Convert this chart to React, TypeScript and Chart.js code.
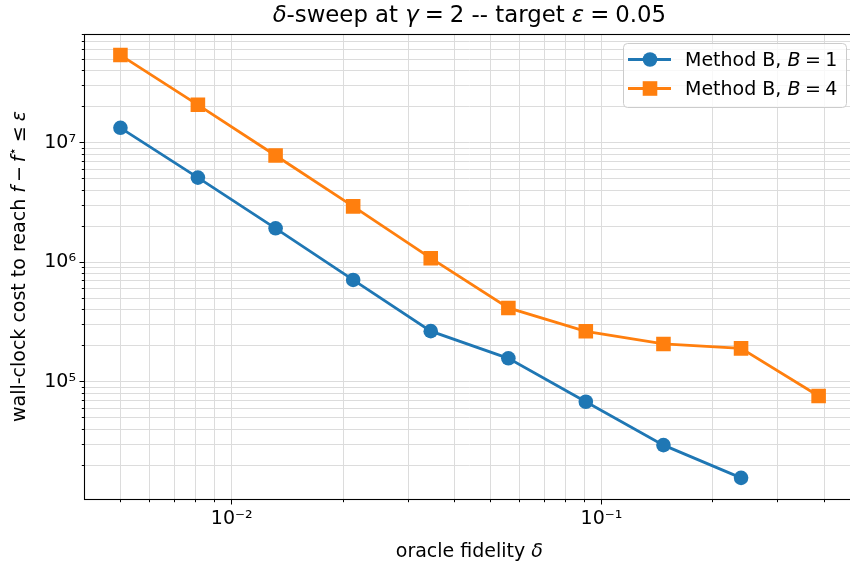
import React, { useEffect, useRef } from 'react';
import { Chart, registerables } from 'chart.js';

Chart.register(...registerables);

// ---- data ----
const delta = [0.005, 0.0081, 0.01314, 0.0213, 0.03453, 0.056, 0.0907, 0.1471, 0.2385, 0.3866];
const costB1 = [1.33e7, 5.1e6, 1.92e6, 7.1e5, 2.65e5, 1.57e5, 6.8e4, 2.95e4, 1.57e4];
const costB4 = [5.4e7, 2.07e7, 7.8e6, 2.93e6, 1.08e6, 4.14e5, 2.64e5, 2.07e5, 1.9e5, 7.6e4];
const seriesNames = ['Method B, B = 1', 'Method B, B = 4'];
const seriesColors = ['#1f77b4', '#ff7f0e'];

const xMajorTicks = [0.01, 0.1];
const xMajorTickLabels = ['10⁻²', '10⁻¹'];
const yMajorTicks = [1e5, 1e6, 1e7];
const yMajorTickLabels = ['10⁵', '10⁶', '10⁷'];

const xRange = [0.00401, 0.481];
const yRange = [1.045e4, 8.1e7];

// ---- helpers ----
const FONT = "'DejaVu Sans'";
const LABEL_SIZE = 19;
const TITLE_SIZE = 22.8;
type Seg = { t: string; it?: boolean; sup?: boolean; gap?: number };

function logTicks(min: number, max: number): number[] {
  const out: number[] = [];
  for (let e = Math.floor(Math.log10(min)); e <= Math.ceil(Math.log10(max)); e++) {
    for (let m = 1; m <= 9; m++) {
      const v = m * Math.pow(10, e);
      if (v >= min && v <= max) out.push(v);
    }
  }
  return out;
}
const isMajor = (v: number) => Math.abs(Math.log10(v) - Math.round(Math.log10(v))) < 1e-9;

function labelFor(v: number, majors: number[], labels: string[]) {
  for (let i = 0; i < majors.length; i++) {
    if (Math.abs(v / majors[i] - 1) < 1e-9) return labels[i];
  }
  return '';
}

function segFont(s: Seg, size: number) {
  const sz = s.sup ? size * 0.7 : size;
  return `${s.it ? 'italic ' : ''}${sz}px ${FONT}`;
}
function segWidth(ctx: CanvasRenderingContext2D, s: Seg, size: number) {
  ctx.font = segFont(s, size);
  return ctx.measureText(s.t).width + (s.gap || 0) * 2;
}
function drawRich(ctx: CanvasRenderingContext2D, segs: Seg[], x: number, y: number, size: number, align: 'left' | 'center') {
  let w = 0;
  for (const s of segs) w += segWidth(ctx, s, size);
  let cx = align === 'center' ? x - w / 2 : x;
  ctx.textAlign = 'left';
  ctx.textBaseline = 'alphabetic';
  for (const s of segs) {
    ctx.font = segFont(s, size);
    ctx.fillText(s.t, cx + (s.gap || 0), s.sup ? y - size * 0.42 : y);
    cx += segWidth(ctx, s, size);
  }
}

const titleSegs: Seg[] = [
  { t: 'δ', it: true }, { t: '-sweep at ' }, { t: 'γ', it: true }, { t: '=', gap: 6 }, { t: '2 -- target ' },
  { t: 'ε', it: true }, { t: '=', gap: 6 }, { t: '0.05' },
];
const xLabelSegs: Seg[] = [{ t: 'oracle fidelity ' }, { t: 'δ', it: true }];
const yLabelSegs: Seg[] = [
  { t: 'wall-clock cost to reach ' }, { t: 'f', it: true }, { t: '−', gap: 4 }, { t: 'f', it: true },
  { t: '⋆', sup: true }, { t: '≤', gap: 5 }, { t: 'ε', it: true },
];
function legendSegs(name: string): Seg[] {
  const idx = name.lastIndexOf('B');
  const rest = name.slice(idx + 1).replace('=', '').trim();
  return [{ t: name.slice(0, idx) }, { t: 'B', it: true }, { t: '=', gap: 4.5 }, { t: rest }];
}

const decorPlugin = {
  id: 'decor',
  afterDraw(chart: any) {
    const ctx: CanvasRenderingContext2D = chart.ctx;
    const a = chart.chartArea;
    ctx.save();
    ctx.strokeStyle = '#000';
    ctx.lineWidth = 1;
    const xs = chart.scales.x;
    const ys = chart.scales.y;
    ctx.beginPath();
    for (const t of xs.ticks) {
      const px = Math.round(xs.getPixelForValue(t.value) - 0.5) + 0.5;
      if (px < a.left - 0.5 || px > a.right + 0.5) continue;
      const len = isMajor(t.value) ? 5.5 : 3.2;
      ctx.moveTo(px, a.bottom);
      ctx.lineTo(px, a.bottom + len);
    }
    for (const t of ys.ticks) {
      const py = Math.round(ys.getPixelForValue(t.value) - 0.5) + 0.5;
      if (py < a.top - 0.5 || py > a.bottom + 0.5) continue;
      const len = isMajor(t.value) ? 5.5 : 3.2;
      ctx.moveTo(a.left, py);
      ctx.lineTo(a.left - len, py);
    }
    ctx.stroke();
    ctx.lineWidth = 1.1;
    ctx.strokeRect(Math.round(a.left) - 0.5, Math.round(a.top) + 0.5, a.right - a.left, a.bottom - a.top);

    ctx.fillStyle = '#000';
    const cx = (a.left + a.right) / 2;
    drawRich(ctx, titleSegs, cx, 22, TITLE_SIZE, 'center');
    drawRich(ctx, xLabelSegs, cx, 557, LABEL_SIZE, 'center');
    ctx.save();
    ctx.translate(25, (a.top + a.bottom) / 2);
    ctx.rotate(-Math.PI / 2);
    drawRich(ctx, yLabelSegs, 0, 0, LABEL_SIZE, 'center');
    ctx.restore();

    // legend
    const lx = 623, ly = 43, lw = 223, lh = 64;
    ctx.beginPath();
    ctx.roundRect(lx + 0.5, ly + 0.5, lw, lh, 4);
    ctx.fillStyle = 'rgba(255,255,255,0.8)';
    ctx.fill();
    ctx.strokeStyle = '#cccccc';
    ctx.lineWidth = 1;
    ctx.stroke();
    const rows = [59.5, 88.5];
    chart.data.datasets.forEach((ds: any, i: number) => {
      const y = rows[i];
      ctx.strokeStyle = ds.borderColor;
      ctx.fillStyle = ds.backgroundColor;
      ctx.lineWidth = 2.8;
      ctx.beginPath();
      ctx.moveTo(628, y);
      ctx.lineTo(671, y);
      ctx.stroke();
      ctx.beginPath();
      if (i === 0) {
        ctx.arc(650, y, 7.3, 0, Math.PI * 2);
      } else {
        ctx.rect(650 - 7.3, y - 7.3, 14.6, 14.6);
      }
      ctx.fill();
      ctx.fillStyle = '#000';
      drawRich(ctx, legendSegs(ds.label), 685, y + 6.8, LABEL_SIZE, 'left');
    });
    ctx.restore();
  },
};

export default function App() {
  const ref = useRef<HTMLCanvasElement | null>(null);
  useEffect(() => {
    const canvas = ref.current;
    if (!canvas) return;
    const xTicks = logTicks(xRange[0], xRange[1]);
    const yTicks = logTicks(yRange[0], yRange[1]);
    const fixPad = (s: any) => {
      s.paddingTop = 0; s.paddingBottom = 0; s.paddingLeft = 0; s.paddingRight = 0;
    };
    const chart = new Chart(canvas, {
      type: 'line',
      data: {
        datasets: [
          {
            label: seriesNames[0],
            data: costB1.map((y, i) => ({ x: delta[i], y })),
            borderColor: seriesColors[0],
            backgroundColor: seriesColors[0],
            borderWidth: 2.8,
            pointStyle: 'circle',
            pointRadius: 7.3,
            pointBorderWidth: 0,
            tension: 0,
          },
          {
            label: seriesNames[1],
            data: costB4.map((y, i) => ({ x: delta[i], y })),
            borderColor: seriesColors[1],
            backgroundColor: seriesColors[1],
            borderWidth: 2.8,
            pointStyle: 'rect',
            pointRadius: 10.3,
            pointBorderWidth: 0,
            tension: 0,
          },
        ],
      },
      options: {
        responsive: false,
        animation: false,
        events: [],
        layout: { padding: { top: 34, right: 6, left: 0, bottom: 0 } },
        plugins: { legend: { display: false }, title: { display: false }, tooltip: { enabled: false } },
        scales: {
          x: {
            type: 'logarithmic',
            min: xRange[0],
            max: xRange[1],
            afterBuildTicks: (s: any) => { s.ticks = xTicks.map((v) => ({ value: v })); },
            afterFit: (s: any) => { s.height = 66; fixPad(s); },
            ticks: {
              autoSkip: false,
              maxRotation: 0,
              minRotation: 0,
              padding: 9,
              color: '#000',
              font: { family: FONT, size: LABEL_SIZE },
              callback: (v: any) => labelFor(Number(v), xMajorTicks, xMajorTickLabels),
            },
            grid: { color: '#dcdcdc', lineWidth: 1, drawTicks: false },
            border: { display: false },
          },
          y: {
            type: 'logarithmic',
            min: yRange[0],
            max: yRange[1],
            afterBuildTicks: (s: any) => { s.ticks = yTicks.map((v) => ({ value: v })); },
            afterFit: (s: any) => { s.width = 85; fixPad(s); },
            ticks: {
              autoSkip: false,
              padding: 9,
              color: '#000',
              font: { family: FONT, size: LABEL_SIZE },
              callback: (v: any) => labelFor(Number(v), yMajorTicks, yMajorTickLabels),
            },
            grid: { color: '#dcdcdc', lineWidth: 1, drawTicks: false },
            border: { display: false },
          },
        },
      },
      plugins: [decorPlugin],
    } as any);
    return () => chart.destroy();
  }, []);
  return (
    <div style={{ position: 'fixed', left: 0, top: 0, width: 850, height: 565, overflow: 'hidden', background: '#fff' }}>
      <canvas ref={ref} width={864} height={565} style={{ display: 'block' }} />
    </div>
  );
}
